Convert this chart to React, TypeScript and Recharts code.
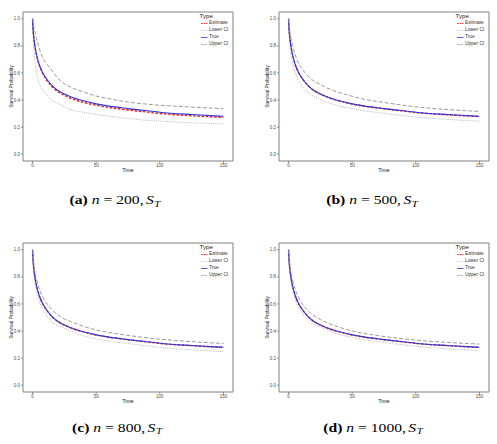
import React from 'react';
import { LineChart, Line, XAxis, YAxis, ReferenceArea } from 'recharts';

const TIMES = [0, 0.5, 1, 2, 3, 5, 7.5, 10, 15, 20, 25, 30, 40, 50, 60, 75, 90, 100, 125, 150];
const X_TICKS = [0, 50, 100, 150];
const Y_TICKS = [0, 0.2, 0.4, 0.6, 0.8, 1.0];
const LEGEND_LABELS = ['Estimate', 'Lower CI', 'True', 'Upper CI'];

const TRUE_S = [1.0, 0.91, 0.86, 0.79, 0.74, 0.67, 0.61, 0.57, 0.51, 0.47, 0.445, 0.425, 0.395, 0.372, 0.355, 0.337, 0.321, 0.31, 0.293, 0.28];

const EST_A = [1.0, 0.91, 0.86, 0.79, 0.737, 0.666, 0.605, 0.563, 0.502, 0.461, 0.435, 0.413, 0.383, 0.362, 0.345, 0.327, 0.311, 0.301, 0.284, 0.272];
const LOW_A = [1.0, 0.85, 0.78, 0.67, 0.6, 0.53, 0.48, 0.45, 0.4, 0.375, 0.35, 0.33, 0.31, 0.295, 0.28, 0.265, 0.25, 0.245, 0.232, 0.224];
const UPP_A = [1.0, 0.97, 0.94, 0.9, 0.86, 0.79, 0.72, 0.68, 0.62, 0.56, 0.52, 0.495, 0.46, 0.43, 0.41, 0.385, 0.37, 0.362, 0.348, 0.336];

const EST_B = [1.0, 0.91, 0.86, 0.79, 0.74, 0.669, 0.609, 0.569, 0.509, 0.469, 0.444, 0.423, 0.393, 0.37, 0.353, 0.335, 0.319, 0.308, 0.291, 0.278];
const LOW_B = [1.0, 0.87, 0.81, 0.73, 0.68, 0.61, 0.55, 0.51, 0.455, 0.425, 0.405, 0.385, 0.355, 0.336, 0.32, 0.302, 0.285, 0.275, 0.257, 0.244];
const UPP_B = [1.0, 0.95, 0.91, 0.85, 0.81, 0.74, 0.68, 0.64, 0.58, 0.54, 0.515, 0.49, 0.455, 0.428, 0.405, 0.382, 0.362, 0.35, 0.33, 0.316];

const EST_C = [1.0, 0.91, 0.86, 0.79, 0.74, 0.67, 0.61, 0.569, 0.509, 0.469, 0.444, 0.424, 0.394, 0.371, 0.354, 0.336, 0.32, 0.309, 0.292, 0.279];
const LOW_C = [1.0, 0.88, 0.83, 0.75, 0.7, 0.63, 0.57, 0.53, 0.47, 0.44, 0.42, 0.4, 0.365, 0.342, 0.326, 0.308, 0.29, 0.279, 0.262, 0.248];
const UPP_C = [1.0, 0.94, 0.9, 0.83, 0.79, 0.72, 0.66, 0.62, 0.56, 0.52, 0.49, 0.47, 0.435, 0.408, 0.39, 0.368, 0.35, 0.34, 0.322, 0.308];

const EST_D = [1.0, 0.91, 0.86, 0.79, 0.74, 0.67, 0.61, 0.57, 0.51, 0.47, 0.445, 0.424, 0.394, 0.371, 0.354, 0.336, 0.32, 0.309, 0.292, 0.279];
const LOW_D = [1.0, 0.885, 0.835, 0.76, 0.71, 0.64, 0.58, 0.54, 0.48, 0.45, 0.43, 0.41, 0.375, 0.353, 0.336, 0.316, 0.298, 0.287, 0.268, 0.255];
const UPP_D = [1.0, 0.935, 0.895, 0.825, 0.785, 0.715, 0.655, 0.612, 0.553, 0.513, 0.485, 0.463, 0.428, 0.4, 0.382, 0.36, 0.343, 0.333, 0.316, 0.304];

const COLORS = { est: '#e8261f', low: '#a6a6a6', tru: '#3333d6', upp: '#8f8f8f' };
const DASH = { est: '2.6 1.6', low: '0.9 1.3', upp: '4 2' };
const SANS = '"Liberation Sans", Arial, sans-serif';
const SERIF = '"Liberation Serif", serif';

function buildData(est: number[], low: number[], upp: number[]) {
  return TIMES.map((t, i) => ({ t, est: est[i], low: low[i], tru: TRUE_S[i], upp: upp[i] }));
}

function YLabel(props: any) {
  const vb = props.viewBox || {};
  const cx = 11;
  const cy = vb.y + vb.height / 2;
  return (
    <text x={cx} y={cy} transform={`rotate(-90 ${cx} ${cy})`} textAnchor="middle" dominantBaseline="central"
      fontSize={5} fill="#222" fontFamily={SANS}>Survival Probability</text>
  );
}

function LegendBox() {
  const keys = ['est', 'low', 'tru', 'upp'] as const;
  return (
    <div style={{ position: 'absolute', left: 199.5, top: 12, fontFamily: SANS, color: '#222', lineHeight: 1 }}>
      <div style={{ fontSize: 6.2, height: 8, lineHeight: '8px' }}>Type</div>
      {keys.map((k, i) => (
        <div key={k} style={{ display: 'flex', alignItems: 'center', height: 7 }}>
          <svg width={8} height={7} style={{ display: 'block' }}>
            <line x1={1} x2={7.5} y1={3.5} y2={3.5} stroke={COLORS[k]} strokeWidth={k === 'est' ? 1 : 0.8}
              strokeDasharray={k === 'tru' ? undefined : k === 'low' ? '0.8 1' : k === 'est' ? '1.6 1' : '2.2 1.2'} />
          </svg>
          <span style={{ fontSize: 4.8, marginLeft: 1.5, color: '#333' }}>{LEGEND_LABELS[i]}</span>
        </div>
      ))}
    </div>
  );
}

function Caption(props: { letter: string; n: string; cx: number; cy: number }) {
  return (
    <div style={{ position: 'absolute', left: props.cx - 80, width: 160, top: props.cy - 8, height: 16, textAlign: 'center',
      fontFamily: SERIF, fontSize: 13, color: '#000', whiteSpace: 'nowrap', lineHeight: '16px',
      transform: 'scaleX(1.2)', transformOrigin: 'center' }}>
      <b>({props.letter})</b> <i>n</i><span style={{ margin: '0 3.3px' }}>=</span>{props.n},<span style={{ marginLeft: 2 }} /><i>S</i>
      <span style={{ fontStyle: 'italic', fontSize: 9, position: 'relative', top: 2.5, marginLeft: 0.5 }}>T</span>
    </div>
  );
}

function Panel(props: { left: number; top: number; est: number[]; low: number[]; upp: number[] }) {
  const data = buildData(props.est, props.low, props.upp);
  return (
    <div style={{ position: 'absolute', left: props.left, top: props.top, width: 250, height: 180 }}>
      <LineChart width={250} height={180} data={data} margin={{ top: 12, right: 17, left: 0, bottom: 6 }}>
        <XAxis dataKey="t" type="number" domain={[-7.5, 157.5]} ticks={X_TICKS} allowDataOverflow
          axisLine={false} tickSize={2} tickMargin={1} height={13}
          tick={{ fontSize: 4.5, fill: '#4d4d4d', fontFamily: SANS }} tickLine={{ stroke: '#555', strokeWidth: 0.6 }}
          label={{ value: 'Time', position: 'insideBottom', offset: 2, fontSize: 5.2, fill: '#222', fontFamily: SANS }} />
        <YAxis type="number" domain={[-0.05, 1.05]} ticks={Y_TICKS} allowDataOverflow width={23}
          axisLine={false} tickSize={2} tickMargin={1} tickFormatter={(v: number) => v.toFixed(1)}
          tick={{ fontSize: 4.5, fill: '#4d4d4d', fontFamily: SANS }} tickLine={{ stroke: '#555', strokeWidth: 0.6 }}
          label={<YLabel />} />
        <ReferenceArea x1={-7.5} x2={157.5} y1={-0.05} y2={1.05} fill="none" stroke="#808080" strokeWidth={1} ifOverflow="visible" />
        <Line dataKey="est" type="monotone" stroke={COLORS.est} strokeWidth={1.4} strokeDasharray={DASH.est} dot={false} isAnimationActive={false} />
        <Line dataKey="low" type="monotone" stroke={COLORS.low} strokeWidth={0.9} strokeDasharray={DASH.low} dot={false} isAnimationActive={false} />
        <Line dataKey="tru" type="monotone" stroke={COLORS.tru} strokeWidth={1.1} dot={false} isAnimationActive={false} />
        <Line dataKey="upp" type="monotone" stroke={COLORS.upp} strokeWidth={0.9} strokeDasharray={DASH.upp} dot={false} isAnimationActive={false} />
      </LineChart>
      <LegendBox />
    </div>
  );
}

export default function App() {
  return (
    <div style={{ position: 'absolute', left: 0, top: 0, width: 497, height: 444, background: '#fff', overflow: 'hidden' }}>
      <Panel left={0} top={0} est={EST_A} low={LOW_A} upp={UPP_A} />
      <Panel left={256} top={0} est={EST_B} low={LOW_B} upp={UPP_B} />
      <Panel left={0} top={231} est={EST_C} low={LOW_C} upp={UPP_C} />
      <Panel left={256} top={231} est={EST_D} low={LOW_D} upp={UPP_D} />
      <Caption letter="a" n="200" cx={115} cy={200} />
      <Caption letter="b" n="500" cx={372} cy={200} />
      <Caption letter="c" n="800" cx={117} cy={427.5} />
      <Caption letter="d" n="1000" cx={373} cy={427.5} />
    </div>
  );
}
